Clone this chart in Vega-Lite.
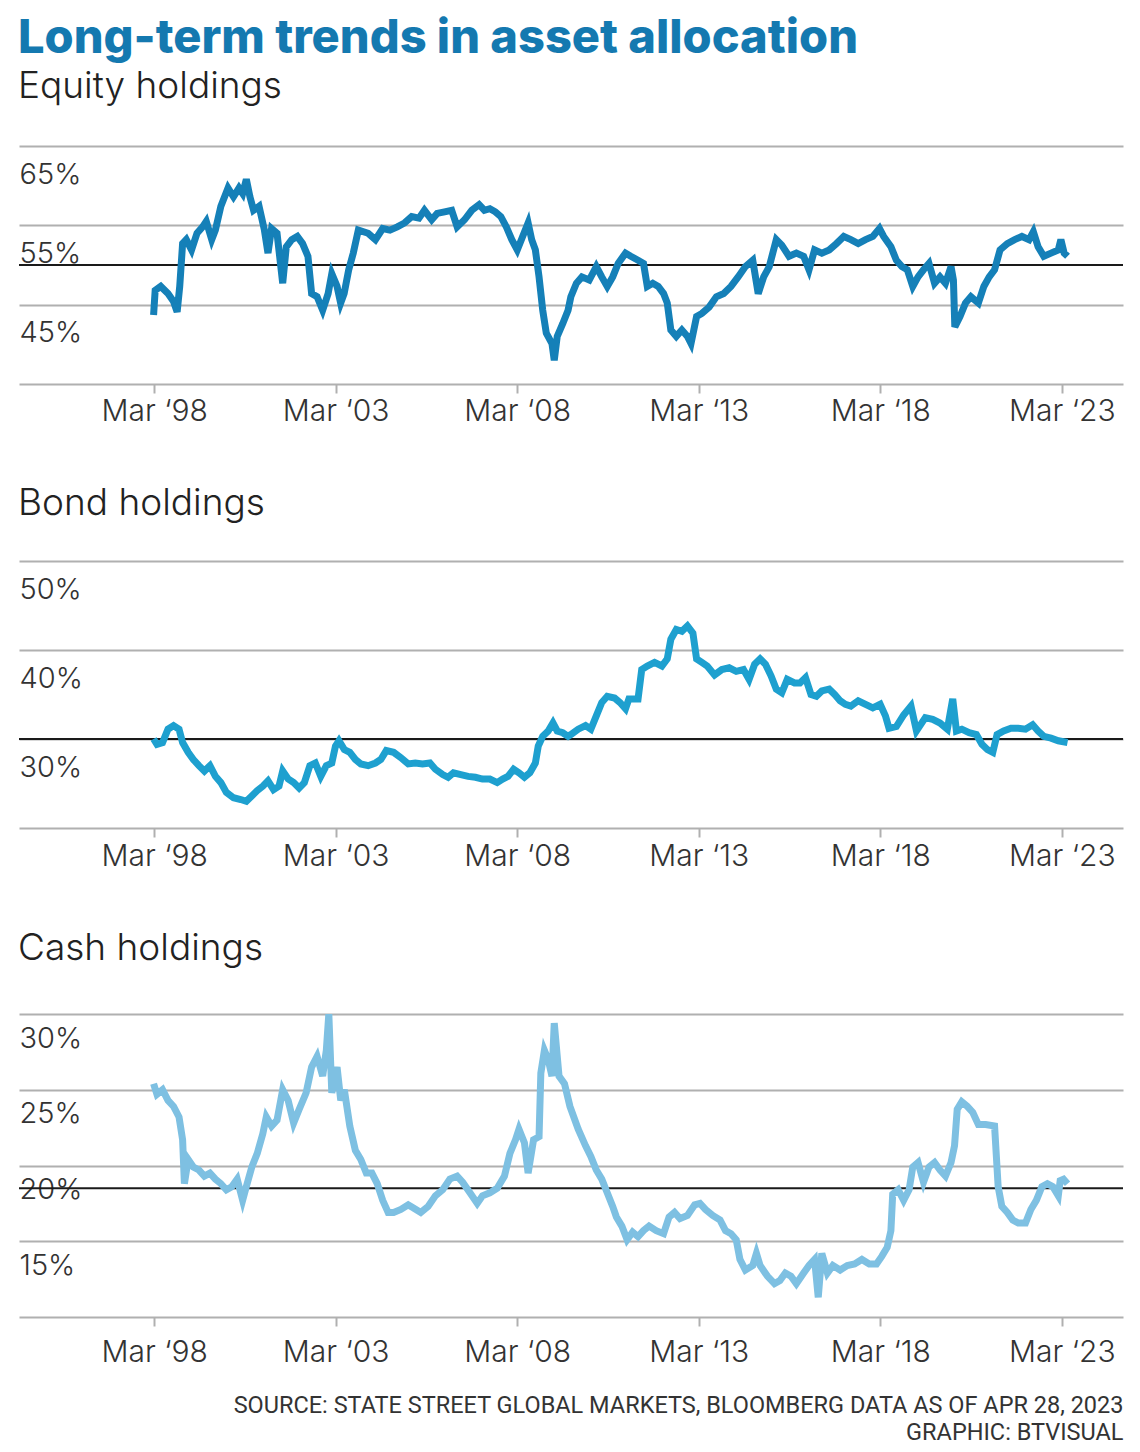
{
"$schema": "https://vega.github.io/schema/vega-lite/v6.json",
"background": "white",
"padding": {"left": 18, "right": 18, "top": 15, "bottom": 0},
"title": {"text": "Long-term trends in asset allocation", "anchor": "start", "font": "Inter", "fontSize": 47, "fontWeight": 800, "color": "#1479b0", "offset": -32, "baseline": "alphabetic"},
"config": {"view": {"stroke": null}, "font": "Inter"},
"spacing": 59,
"datasets": {
"equity": [
{"date":"1998-02-23","value":43.7},{"date":"1998-03-11","value":46.8},{"date":"1998-05-06","value":47.3},{"date":"1998-07-18","value":46.4},{"date":"1998-09-12","value":45.4},{"date":"1998-10-18","value":44.1},{"date":"1998-11-13","value":47.3},{"date":"1998-12-12","value":52.7},{"date":"1999-01-18","value":53.2},{"date":"1999-03-12","value":51.9},{"date":"1999-05-06","value":54.0},{"date":"1999-07-01","value":54.8},{"date":"1999-08-07","value":55.5},{"date":"1999-10-01","value":53.2},{"date":"1999-11-07","value":54.4},{"date":"2000-01-01","value":57.4},{"date":"2000-03-13","value":59.7},{"date":"2000-05-07","value":58.6},{"date":"2000-07-01","value":59.7},{"date":"2000-08-07","value":59.0},{"date":"2000-09-13","value":60.8},{"date":"2000-10-19","value":58.6},{"date":"2000-11-25","value":56.9},{"date":"2001-01-19","value":57.4},{"date":"2001-03-14","value":54.4},{"date":"2001-04-19","value":51.5},{"date":"2001-05-25","value":54.6},{"date":"2001-07-19","value":54.0},{"date":"2001-09-14","value":47.7},{"date":"2001-10-20","value":52.3},{"date":"2001-12-14","value":53.2},{"date":"2002-02-08","value":53.6},{"date":"2002-04-02","value":52.7},{"date":"2002-05-26","value":51.1},{"date":"2002-07-02","value":46.4},{"date":"2002-08-26","value":46.0},{"date":"2002-10-21","value":44.3},{"date":"2002-12-15","value":46.4},{"date":"2003-01-21","value":48.9},{"date":"2003-03-15","value":47.3},{"date":"2003-04-20","value":45.2},{"date":"2003-05-25","value":46.4},{"date":"2003-07-10","value":49.4},{"date":"2003-08-25","value":51.5},{"date":"2003-10-15","value":54.4},{"date":"2004-01-22","value":54.0},{"date":"2004-04-04","value":53.2},{"date":"2004-06-16","value":54.6},{"date":"2004-08-28","value":54.4},{"date":"2004-11-10","value":54.8},{"date":"2005-01-22","value":55.3},{"date":"2005-04-04","value":56.1},{"date":"2005-06-16","value":55.9},{"date":"2005-08-10","value":56.9},{"date":"2005-10-22","value":55.7},{"date":"2005-12-16","value":56.5},{"date":"2006-02-28","value":56.7},{"date":"2006-05-11","value":56.9},{"date":"2006-07-05","value":54.8},{"date":"2006-09-17","value":55.7},{"date":"2006-11-29","value":56.9},{"date":"2007-02-11","value":57.6},{"date":"2007-04-05","value":56.9},{"date":"2007-05-30","value":57.1},{"date":"2007-07-24","value":56.7},{"date":"2007-09-18","value":56.1},{"date":"2007-11-12","value":54.8},{"date":"2008-01-06","value":53.2},{"date":"2008-03-01","value":51.9},{"date":"2008-04-24","value":53.6},{"date":"2008-06-18","value":55.3},{"date":"2008-07-24","value":53.2},{"date":"2008-08-30","value":51.9},{"date":"2008-10-06","value":48.5},{"date":"2008-11-12","value":44.3},{"date":"2008-12-18","value":41.4},{"date":"2009-02-13","value":40.1},{"date":"2009-03-08","value":38.0},{"date":"2009-04-07","value":41.0},{"date":"2009-06-01","value":42.6},{"date":"2009-07-25","value":44.3},{"date":"2009-08-22","value":46.0},{"date":"2009-10-17","value":47.7},{"date":"2009-12-11","value":48.5},{"date":"2010-02-23","value":48.1},{"date":"2010-05-05","value":49.8},{"date":"2010-06-29","value":48.5},{"date":"2010-08-23","value":47.3},{"date":"2010-10-17","value":48.5},{"date":"2010-12-11","value":50.2},{"date":"2011-02-23","value":51.5},{"date":"2011-04-17","value":51.1},{"date":"2011-06-29","value":50.6},{"date":"2011-08-23","value":50.2},{"date":"2011-09-30","value":47.3},{"date":"2011-11-24","value":47.7},{"date":"2012-01-18","value":47.3},{"date":"2012-03-12","value":46.4},{"date":"2012-04-18","value":45.2},{"date":"2012-05-24","value":41.8},{"date":"2012-07-18","value":41.0},{"date":"2012-09-12","value":41.8},{"date":"2012-11-07","value":41.0},{"date":"2012-12-13","value":40.1},{"date":"2013-02-07","value":43.5},{"date":"2013-04-01","value":43.9},{"date":"2013-06-13","value":44.7},{"date":"2013-08-25","value":46.0},{"date":"2013-11-07","value":46.4},{"date":"2014-01-19","value":47.3},{"date":"2014-04-01","value":48.5},{"date":"2014-06-13","value":49.8},{"date":"2014-08-26","value":50.6},{"date":"2014-10-20","value":46.4},{"date":"2014-12-14","value":48.5},{"date":"2015-02-08","value":49.8},{"date":"2015-04-20","value":53.2},{"date":"2015-06-14","value":52.5},{"date":"2015-08-26","value":51.1},{"date":"2015-11-08","value":51.5},{"date":"2016-01-20","value":51.1},{"date":"2016-03-14","value":49.4},{"date":"2016-05-09","value":51.9},{"date":"2016-07-21","value":51.5},{"date":"2016-10-03","value":51.9},{"date":"2016-12-15","value":52.7},{"date":"2017-02-27","value":53.6},{"date":"2017-05-09","value":53.2},{"date":"2017-07-22","value":52.7},{"date":"2017-10-04","value":53.2},{"date":"2017-12-16","value":53.6},{"date":"2018-02-21","value":54.6},{"date":"2018-04-04","value":53.6},{"date":"2018-06-16","value":52.3},{"date":"2018-08-10","value":50.6},{"date":"2018-10-04","value":49.8},{"date":"2018-11-28","value":49.4},{"date":"2019-01-22","value":47.3},{"date":"2019-03-16","value":48.5},{"date":"2019-05-10","value":49.4},{"date":"2019-07-04","value":50.2},{"date":"2019-08-29","value":47.7},{"date":"2019-10-23","value":48.5},{"date":"2019-12-17","value":47.7},{"date":"2020-02-11","value":49.8},{"date":"2020-03-06","value":48.1},{"date":"2020-03-20","value":42.2},{"date":"2020-05-11","value":43.5},{"date":"2020-07-05","value":45.2},{"date":"2020-08-29","value":46.0},{"date":"2020-11-12","value":45.2},{"date":"2021-01-06","value":47.3},{"date":"2021-03-01","value":48.5},{"date":"2021-04-24","value":49.4},{"date":"2021-06-18","value":51.9},{"date":"2021-08-30","value":52.7},{"date":"2021-11-12","value":53.2},{"date":"2022-01-24","value":53.6},{"date":"2022-04-06","value":53.2},{"date":"2022-05-19","value":54.2},{"date":"2022-07-06","value":52.3},{"date":"2022-09-01","value":51.1},{"date":"2022-11-13","value":51.5},{"date":"2023-01-25","value":51.9},{"date":"2023-02-20","value":53.2},{"date":"2023-03-25","value":51.5},{"date":"2023-04-28","value":51.1}
],
"bond": [
{"date":"1998-02-23","value":30.0},{"date":"1998-03-29","value":29.4},{"date":"1998-05-24","value":29.6},{"date":"1998-07-18","value":31.1},{"date":"1998-09-12","value":31.5},{"date":"1998-11-06","value":31.1},{"date":"1998-12-12","value":29.6},{"date":"1999-02-06","value":28.5},{"date":"1999-03-30","value":27.7},{"date":"1999-05-25","value":27.0},{"date":"1999-07-19","value":26.4},{"date":"1999-09-13","value":27.0},{"date":"1999-11-07","value":25.8},{"date":"2000-01-01","value":25.1},{"date":"2000-02-25","value":24.0},{"date":"2000-05-07","value":23.4},{"date":"2000-07-19","value":23.2},{"date":"2000-09-13","value":23.0},{"date":"2000-11-07","value":23.6},{"date":"2001-01-01","value":24.2},{"date":"2001-02-26","value":24.7},{"date":"2001-04-19","value":25.3},{"date":"2001-06-14","value":24.3},{"date":"2001-08-08","value":24.7},{"date":"2001-09-14","value":26.4},{"date":"2001-11-08","value":25.5},{"date":"2002-01-02","value":25.1},{"date":"2002-02-26","value":24.5},{"date":"2002-04-20","value":25.1},{"date":"2002-06-14","value":27.0},{"date":"2002-08-08","value":27.3},{"date":"2002-10-02","value":25.8},{"date":"2002-11-27","value":27.0},{"date":"2003-01-21","value":27.3},{"date":"2003-02-27","value":29.2},{"date":"2003-04-03","value":29.8},{"date":"2003-05-27","value":28.8},{"date":"2003-07-21","value":28.5},{"date":"2003-09-15","value":27.7},{"date":"2003-11-09","value":27.2},{"date":"2004-01-22","value":27.0},{"date":"2004-04-04","value":27.3},{"date":"2004-05-28","value":27.7},{"date":"2004-07-22","value":28.7},{"date":"2004-10-04","value":28.5},{"date":"2004-12-16","value":27.9},{"date":"2005-02-28","value":27.2},{"date":"2005-05-10","value":27.3},{"date":"2005-07-22","value":27.2},{"date":"2005-10-04","value":27.3},{"date":"2005-11-28","value":26.6},{"date":"2006-02-10","value":26.0},{"date":"2006-04-05","value":25.7},{"date":"2006-05-29","value":26.2},{"date":"2006-08-11","value":26.0},{"date":"2006-10-23","value":25.8},{"date":"2007-01-05","value":25.7},{"date":"2007-03-17","value":25.5},{"date":"2007-05-30","value":25.5},{"date":"2007-08-12","value":25.1},{"date":"2007-10-06","value":25.5},{"date":"2007-11-28","value":25.8},{"date":"2008-01-24","value":26.6},{"date":"2008-03-18","value":26.2},{"date":"2008-05-12","value":25.7},{"date":"2008-07-06","value":26.2},{"date":"2008-08-30","value":27.3},{"date":"2008-09-28","value":29.2},{"date":"2008-11-12","value":30.3},{"date":"2009-01-06","value":30.9},{"date":"2009-02-23","value":31.8},{"date":"2009-04-07","value":30.9},{"date":"2009-06-01","value":30.7},{"date":"2009-07-25","value":30.3},{"date":"2009-08-22","value":30.5},{"date":"2009-11-04","value":31.1},{"date":"2010-01-17","value":31.5},{"date":"2010-03-11","value":31.1},{"date":"2010-05-05","value":32.6},{"date":"2010-06-29","value":34.1},{"date":"2010-08-23","value":34.8},{"date":"2010-11-05","value":34.6},{"date":"2010-12-29","value":34.1},{"date":"2011-02-23","value":33.4},{"date":"2011-03-29","value":34.5},{"date":"2011-06-29","value":34.5},{"date":"2011-08-05","value":37.8},{"date":"2011-09-30","value":38.2},{"date":"2011-12-12","value":38.6},{"date":"2012-02-24","value":38.2},{"date":"2012-04-18","value":39.0},{"date":"2012-05-24","value":41.2},{"date":"2012-07-18","value":42.3},{"date":"2012-09-12","value":42.1},{"date":"2012-11-07","value":42.7},{"date":"2013-01-01","value":41.9},{"date":"2013-02-07","value":39.0},{"date":"2013-04-01","value":38.6},{"date":"2013-05-25","value":38.2},{"date":"2013-08-07","value":37.2},{"date":"2013-10-19","value":37.8},{"date":"2014-01-01","value":38.0},{"date":"2014-03-13","value":37.6},{"date":"2014-05-25","value":37.8},{"date":"2014-07-20","value":36.7},{"date":"2014-09-14","value":38.4},{"date":"2014-11-08","value":39.0},{"date":"2015-01-01","value":38.4},{"date":"2015-02-26","value":37.1},{"date":"2015-04-20","value":35.6},{"date":"2015-06-14","value":35.2},{"date":"2015-08-08","value":36.7},{"date":"2015-10-20","value":36.3},{"date":"2015-12-14","value":36.3},{"date":"2016-02-08","value":36.9},{"date":"2016-04-03","value":35.0},{"date":"2016-05-27","value":34.8},{"date":"2016-07-21","value":35.4},{"date":"2016-10-03","value":35.6},{"date":"2016-11-27","value":35.0},{"date":"2017-01-21","value":34.3},{"date":"2017-03-15","value":33.9},{"date":"2017-05-09","value":33.7},{"date":"2017-07-22","value":34.3},{"date":"2017-10-04","value":33.9},{"date":"2017-12-16","value":33.5},{"date":"2018-02-28","value":33.9},{"date":"2018-04-22","value":32.6},{"date":"2018-05-28","value":31.2},{"date":"2018-08-10","value":31.4},{"date":"2018-10-22","value":32.7},{"date":"2019-01-04","value":33.7},{"date":"2019-02-28","value":30.9},{"date":"2019-05-28","value":32.4},{"date":"2019-08-10","value":32.2},{"date":"2019-10-23","value":31.8},{"date":"2020-01-05","value":31.1},{"date":"2020-02-28","value":34.5},{"date":"2020-04-05","value":30.9},{"date":"2020-05-29","value":31.1},{"date":"2020-08-11","value":30.7},{"date":"2020-10-23","value":30.5},{"date":"2020-12-18","value":29.4},{"date":"2021-02-12","value":28.8},{"date":"2021-04-06","value":28.5},{"date":"2021-05-19","value":30.5},{"date":"2021-07-24","value":30.9},{"date":"2021-10-06","value":31.2},{"date":"2021-12-18","value":31.2},{"date":"2022-03-01","value":31.1},{"date":"2022-05-12","value":31.6},{"date":"2022-07-06","value":30.9},{"date":"2022-09-01","value":30.3},{"date":"2022-11-13","value":30.1},{"date":"2023-01-25","value":29.8},{"date":"2023-04-28","value":29.6}
],
"cash": [
{"date":"1998-02-23","value":25.4},{"date":"1998-03-29","value":24.7},{"date":"1998-05-24","value":25.0},{"date":"1998-07-18","value":24.3},{"date":"1998-09-12","value":23.9},{"date":"1998-11-06","value":23.2},{"date":"1998-12-12","value":21.7},{"date":"1998-12-30","value":18.8},{"date":"1999-02-06","value":20.4},{"date":"1999-03-30","value":19.9},{"date":"1999-05-25","value":19.7},{"date":"1999-07-19","value":19.3},{"date":"1999-09-13","value":19.5},{"date":"1999-11-07","value":19.1},{"date":"2000-01-01","value":18.8},{"date":"2000-02-25","value":18.4},{"date":"2000-04-19","value":18.6},{"date":"2000-06-13","value":19.1},{"date":"2000-08-07","value":17.7},{"date":"2000-09-13","value":18.6},{"date":"2000-11-07","value":19.9},{"date":"2001-01-01","value":20.8},{"date":"2001-02-26","value":22.1},{"date":"2001-04-02","value":23.2},{"date":"2001-05-25","value":22.6},{"date":"2001-07-19","value":23.0},{"date":"2001-09-14","value":25.0},{"date":"2001-11-08","value":24.3},{"date":"2002-01-02","value":22.8},{"date":"2002-02-26","value":23.7},{"date":"2002-05-08","value":24.8},{"date":"2002-07-02","value":26.5},{"date":"2002-08-26","value":27.2},{"date":"2002-10-21","value":25.9},{"date":"2002-11-27","value":27.6},{"date":"2002-12-22","value":30.0},{"date":"2003-01-21","value":24.8},{"date":"2003-03-15","value":26.5},{"date":"2003-04-21","value":24.3},{"date":"2003-05-27","value":25.0},{"date":"2003-07-21","value":22.6},{"date":"2003-09-15","value":21.0},{"date":"2003-11-09","value":20.4},{"date":"2004-01-03","value":19.5},{"date":"2004-02-28","value":19.5},{"date":"2004-04-22","value":18.8},{"date":"2004-06-16","value":17.7},{"date":"2004-08-10","value":16.9},{"date":"2004-10-04","value":16.9},{"date":"2004-12-16","value":17.1},{"date":"2005-02-28","value":17.4},{"date":"2005-04-22","value":17.2},{"date":"2005-07-04","value":16.9},{"date":"2005-09-16","value":17.3},{"date":"2005-11-28","value":18.0},{"date":"2006-02-10","value":18.4},{"date":"2006-04-23","value":19.1},{"date":"2006-07-05","value":19.3},{"date":"2006-08-29","value":18.9},{"date":"2006-11-11","value":18.2},{"date":"2007-01-23","value":17.5},{"date":"2007-03-17","value":18.0},{"date":"2007-05-30","value":18.2},{"date":"2007-08-12","value":18.5},{"date":"2007-10-24","value":19.3},{"date":"2007-12-18","value":20.8},{"date":"2008-02-12","value":21.7},{"date":"2008-03-18","value":22.4},{"date":"2008-05-12","value":21.5},{"date":"2008-06-18","value":19.5},{"date":"2008-08-12","value":21.7},{"date":"2008-10-06","value":21.9},{"date":"2008-10-24","value":26.1},{"date":"2008-11-29","value":27.6},{"date":"2009-01-06","value":27.0},{"date":"2009-02-13","value":25.9},{"date":"2009-03-08","value":29.4},{"date":"2009-04-25","value":25.9},{"date":"2009-06-19","value":25.4},{"date":"2009-08-13","value":23.9},{"date":"2009-11-04","value":22.4},{"date":"2010-01-17","value":21.3},{"date":"2010-03-11","value":20.6},{"date":"2010-05-05","value":19.7},{"date":"2010-06-29","value":19.1},{"date":"2010-08-23","value":18.2},{"date":"2010-10-17","value":17.3},{"date":"2010-11-23","value":16.6},{"date":"2011-01-17","value":16.0},{"date":"2011-03-11","value":15.1},{"date":"2011-05-05","value":15.6},{"date":"2011-06-29","value":15.3},{"date":"2011-08-23","value":15.7},{"date":"2011-10-18","value":16.0},{"date":"2011-12-29","value":15.7},{"date":"2012-03-12","value":15.5},{"date":"2012-05-06","value":16.6},{"date":"2012-06-30","value":16.9},{"date":"2012-08-24","value":16.5},{"date":"2012-11-07","value":16.7},{"date":"2013-01-19","value":17.4},{"date":"2013-03-13","value":17.5},{"date":"2013-05-07","value":17.1},{"date":"2013-07-19","value":16.7},{"date":"2013-10-01","value":16.4},{"date":"2013-11-25","value":15.7},{"date":"2014-01-19","value":15.5},{"date":"2014-03-13","value":15.1},{"date":"2014-04-19","value":13.8},{"date":"2014-06-13","value":13.1},{"date":"2014-08-26","value":13.4},{"date":"2014-10-02","value":14.2},{"date":"2014-11-08","value":13.4},{"date":"2015-01-20","value":12.7},{"date":"2015-04-02","value":12.2},{"date":"2015-05-26","value":12.4},{"date":"2015-07-20","value":12.9},{"date":"2015-09-14","value":12.7},{"date":"2015-11-08","value":12.2},{"date":"2016-01-20","value":12.9},{"date":"2016-03-14","value":13.4},{"date":"2016-05-09","value":13.8},{"date":"2016-06-15","value":11.3},{"date":"2016-07-21","value":14.2},{"date":"2016-09-15","value":12.9},{"date":"2016-11-09","value":13.4},{"date":"2017-01-21","value":13.1},{"date":"2017-04-03","value":13.4},{"date":"2017-06-16","value":13.5},{"date":"2017-08-28","value":13.8},{"date":"2017-11-10","value":13.5},{"date":"2018-01-22","value":13.5},{"date":"2018-03-16","value":14.0},{"date":"2018-05-10","value":14.6},{"date":"2018-06-16","value":15.7},{"date":"2018-07-04","value":18.1},{"date":"2018-08-28","value":18.4},{"date":"2018-10-22","value":17.7},{"date":"2018-12-16","value":18.4},{"date":"2019-01-22","value":19.9},{"date":"2019-03-16","value":20.2},{"date":"2019-05-10","value":18.9},{"date":"2019-07-04","value":19.9},{"date":"2019-08-29","value":20.2},{"date":"2019-10-23","value":19.7},{"date":"2019-12-17","value":19.3},{"date":"2020-02-11","value":20.2},{"date":"2020-03-17","value":21.3},{"date":"2020-04-13","value":23.7},{"date":"2020-05-29","value":24.2},{"date":"2020-07-23","value":23.9},{"date":"2020-09-17","value":23.5},{"date":"2020-11-12","value":22.7},{"date":"2021-01-24","value":22.7},{"date":"2021-04-24","value":22.6},{"date":"2021-05-30","value":18.6},{"date":"2021-07-06","value":17.3},{"date":"2021-08-30","value":16.9},{"date":"2021-10-24","value":16.4},{"date":"2021-12-18","value":16.2},{"date":"2022-03-01","value":16.2},{"date":"2022-04-24","value":17.1},{"date":"2022-06-18","value":17.7},{"date":"2022-08-13","value":18.6},{"date":"2022-10-07","value":18.8},{"date":"2022-12-01","value":18.6},{"date":"2023-01-25","value":18.0},{"date":"2023-02-13","value":19.0},{"date":"2023-03-19","value":19.1},{"date":"2023-04-28","value":18.8}
]
},
"vconcat": [
{
"width": 1104, "height": 238,
"title": {"text": "Equity holdings", "anchor": "start", "font": "Inter", "fontSize": 37, "fontWeight": 300, "color": "#222222", "offset": 11, "baseline": "alphabetic"},
"layer": [
{"data": {"values": [{"average": 50}]},
 "mark": {"type": "rule", "color": "#1a1a1a", "strokeWidth": 2},
 "encoding": {"y": {"field": "average", "type": "quantitative", "scale": {"domain": [35, 65], "nice": false, "zero": false},
   "axis": {"title": null, "values": [35, 45, 55, 65], "labelExpr": "datum.value == 35 ? '' : datum.value + '%'", "grid": true, "gridColor": "#b0b0b0", "gridWidth": 2, "domain": false, "ticks": false, "tickSize": 0, "labelPadding": 0, "labelAlign": "left", "labelBaseline": "alphabetic", "labelOffset": 37, "labelFont": "Inter", "labelFontSize": 29, "labelFontWeight": 300, "labelColor": "#333333"}}}},
{"data": {"name": "equity"},
 "mark": {"type": "line", "color": "#1580b8", "strokeWidth": 7},
 "encoding": {
  "x": {"field": "date", "type": "temporal", "scale": {"type": "utc", "domain": [{"year": 1994, "month": 6, "date": 10, "utc": true}, {"year": 2024, "month": 11, "date": 6, "utc": true}]},
   "axis": {"title": null, "values": [{"year": 1998, "month": 3, "date": 1, "utc": true}, {"year": 2003, "month": 3, "date": 1, "utc": true}, {"year": 2008, "month": 3, "date": 1, "utc": true}, {"year": 2013, "month": 3, "date": 1, "utc": true}, {"year": 2018, "month": 3, "date": 1, "utc": true}, {"year": 2023, "month": 3, "date": 1, "utc": true}], "labelExpr": "'Mar ‘' + utcFormat(datum.value, '%y')", "grid": false, "domain": false, "ticks": true, "tickColor": "#b0b0b0", "tickWidth": 2, "tickSize": 9, "labelPadding": 27, "labelBaseline": "alphabetic", "labelFont": "Inter", "labelFontSize": 30, "labelFontWeight": 300, "labelColor": "#333333", "labelFlush": false, "labelOverlap": false}},
  "y": {"field": "value", "type": "quantitative", "scale": {"domain": [35, 65], "nice": false, "zero": false},
   "axis": {"title": null, "values": [35, 45, 55, 65], "labelExpr": "datum.value == 35 ? '' : datum.value + '%'", "grid": true, "gridColor": "#b0b0b0", "gridWidth": 2, "domain": false, "ticks": false, "tickSize": 0, "labelPadding": 0, "labelAlign": "left", "labelBaseline": "alphabetic", "labelOffset": 37, "labelFont": "Inter", "labelFontSize": 29, "labelFontWeight": 300, "labelColor": "#333333"}}
 }}
]
},
{
"width": 1104, "height": 267,
"title": {"text": "Bond holdings", "anchor": "start", "font": "Inter", "fontSize": 37, "fontWeight": 300, "color": "#222222", "offset": 9, "baseline": "alphabetic"},
"layer": [
{"data": {"values": [{"average": 30}]},
 "mark": {"type": "rule", "color": "#1a1a1a", "strokeWidth": 2},
 "encoding": {"y": {"field": "average", "type": "quantitative", "scale": {"domain": [20, 50], "nice": false, "zero": false},
   "axis": {"title": null, "values": [20, 30, 40, 50], "labelExpr": "datum.value == 20 ? '' : datum.value + '%'", "grid": true, "gridColor": "#b0b0b0", "gridWidth": 2, "domain": false, "ticks": false, "tickSize": 0, "labelPadding": 0, "labelAlign": "left", "labelBaseline": "alphabetic", "labelOffset": 37, "labelFont": "Inter", "labelFontSize": 29, "labelFontWeight": 300, "labelColor": "#333333"}}}},
{"data": {"name": "bond"},
 "mark": {"type": "line", "color": "#1ea0cf", "strokeWidth": 7},
 "encoding": {
  "x": {"field": "date", "type": "temporal", "scale": {"type": "utc", "domain": [{"year": 1994, "month": 6, "date": 10, "utc": true}, {"year": 2024, "month": 11, "date": 6, "utc": true}]},
   "axis": {"title": null, "values": [{"year": 1998, "month": 3, "date": 1, "utc": true}, {"year": 2003, "month": 3, "date": 1, "utc": true}, {"year": 2008, "month": 3, "date": 1, "utc": true}, {"year": 2013, "month": 3, "date": 1, "utc": true}, {"year": 2018, "month": 3, "date": 1, "utc": true}, {"year": 2023, "month": 3, "date": 1, "utc": true}], "labelExpr": "'Mar ‘' + utcFormat(datum.value, '%y')", "grid": false, "domain": false, "ticks": true, "tickColor": "#b0b0b0", "tickWidth": 2, "tickSize": 9, "labelPadding": 28, "labelBaseline": "alphabetic", "labelFont": "Inter", "labelFontSize": 30, "labelFontWeight": 300, "labelColor": "#333333", "labelFlush": false, "labelOverlap": false}},
  "y": {"field": "value", "type": "quantitative", "scale": {"domain": [20, 50], "nice": false, "zero": false},
   "axis": {"title": null, "values": [20, 30, 40, 50], "labelExpr": "datum.value == 20 ? '' : datum.value + '%'", "grid": true, "gridColor": "#b0b0b0", "gridWidth": 2, "domain": false, "ticks": false, "tickSize": 0, "labelPadding": 0, "labelAlign": "left", "labelBaseline": "alphabetic", "labelOffset": 37, "labelFont": "Inter", "labelFontSize": 29, "labelFontWeight": 300, "labelColor": "#333333"}}
 }}
]
},
{
"width": 1104, "height": 303,
"title": {"text": "Cash holdings", "anchor": "start", "font": "Inter", "fontSize": 37, "fontWeight": 300, "color": "#222222", "offset": 17, "baseline": "alphabetic"},
"layer": [
{"data": {"values": [{"average": 18.5}]},
 "mark": {"type": "rule", "color": "#1a1a1a", "strokeWidth": 2},
 "encoding": {"y": {"field": "average", "type": "quantitative", "scale": {"domain": [10, 30], "nice": false, "zero": false},
   "axis": {"title": null, "values": [10, 15, 20, 25, 30], "labelExpr": "datum.value == 10 ? '' : datum.value + '%'", "grid": true, "gridColor": "#b0b0b0", "gridWidth": 2, "domain": false, "ticks": false, "tickSize": 0, "labelPadding": 0, "labelAlign": "left", "labelBaseline": "alphabetic", "labelOffset": 33, "labelFont": "Inter", "labelFontSize": 29, "labelFontWeight": 300, "labelColor": "#333333"}}}},
{"data": {"name": "cash"},
 "mark": {"type": "line", "color": "#7ec0e2", "strokeWidth": 7, "clip": true},
 "encoding": {
  "x": {"field": "date", "type": "temporal", "scale": {"type": "utc", "domain": [{"year": 1994, "month": 6, "date": 10, "utc": true}, {"year": 2024, "month": 11, "date": 6, "utc": true}]},
   "axis": {"title": ["SOURCE: STATE STREET GLOBAL MARKETS, BLOOMBERG DATA AS OF APR 28, 2023", "GRAPHIC: BTVISUAL"], "titleAnchor": "end", "titleAlign": "right", "titleBaseline": "top", "titlePadding": 26, "titleFont": "Roboto", "titleFontSize": 23.5, "titleFontWeight": 400, "titleColor": "#333333", "titleLineHeight": 27,
    "values": [{"year": 1998, "month": 3, "date": 1, "utc": true}, {"year": 2003, "month": 3, "date": 1, "utc": true}, {"year": 2008, "month": 3, "date": 1, "utc": true}, {"year": 2013, "month": 3, "date": 1, "utc": true}, {"year": 2018, "month": 3, "date": 1, "utc": true}, {"year": 2023, "month": 3, "date": 1, "utc": true}], "labelExpr": "'Mar ‘' + utcFormat(datum.value, '%y')", "grid": false, "domain": false, "ticks": true, "tickColor": "#b0b0b0", "tickWidth": 2, "tickSize": 9, "labelPadding": 35, "labelBaseline": "alphabetic", "labelFont": "Inter", "labelFontSize": 30, "labelFontWeight": 300, "labelColor": "#333333", "labelFlush": false, "labelOverlap": false}},
  "y": {"field": "value", "type": "quantitative", "scale": {"domain": [10, 30], "nice": false, "zero": false},
   "axis": {"title": null, "values": [10, 15, 20, 25, 30], "labelExpr": "datum.value == 10 ? '' : datum.value + '%'", "grid": true, "gridColor": "#b0b0b0", "gridWidth": 2, "domain": false, "ticks": false, "tickSize": 0, "labelPadding": 0, "labelAlign": "left", "labelBaseline": "alphabetic", "labelOffset": 33, "labelFont": "Inter", "labelFontSize": 29, "labelFontWeight": 300, "labelColor": "#333333"}}
 }}
]
}
]
}
